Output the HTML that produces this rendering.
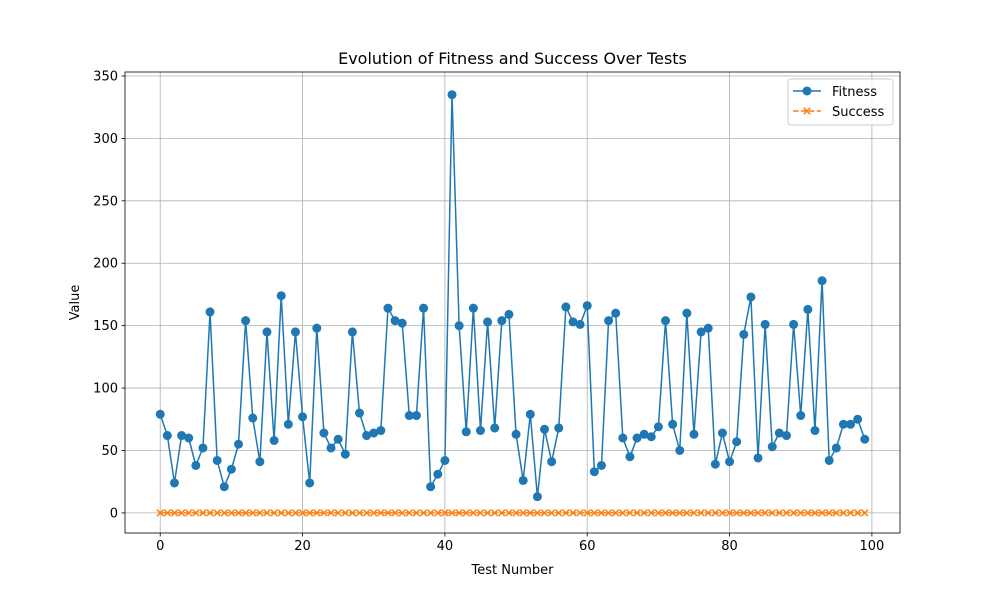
<!DOCTYPE html>
<html><head><meta charset="utf-8"><style>
body{margin:0;background:#fff;font-family:"Liberation Sans","DejaVu Sans",sans-serif}
svg text{font-family:"DejaVu Sans","Liberation Sans",sans-serif}
</style></head><body>
<svg id="chart" width="1000" height="600" xmlns="http://www.w3.org/2000/svg"></svg>
<script>
const testNumbers = Array.from({length:100},(_,i)=>i);
const fitness = [79,62,24,62,60,38,52,161,42,21,35,55,154,76,41,145,58,174,71,145,77,24,148,64,52,59,47,145,80,62,64,66,164,154,152,78,78,164,21,31,42,335,150,65,164,66,153,68,154,159,63,26,79,13,67,41,68,165,153,151,166,33,38,154,160,60,45,60,63,61,69,154,71,50,160,63,145,148,39,64,41,57,143,173,44,151,53,64,62,151,78,163,66,186,42,52,71,71,75,59];
const success = new Array(100).fill(0);
const xTicks = [0,20,40,60,80,100];
const yTicks = [0,50,100,150,200,250,300,350];

const L=125,R=900,T=72,B=533;
const xMin=-4.95,xMax=103.95,yMin=-16.1,yMax=353.2;
const xs=v=>L+(v-xMin)/(xMax-xMin)*(R-L);
const ys=v=>B-(v-yMin)/(yMax-yMin)*(B-T);
const svg=document.getElementById('chart');
const NS='http://www.w3.org/2000/svg';
function mk(tag,attrs,parent){const e=document.createElementNS(NS,tag);for(const k in attrs)e.setAttribute(k,attrs[k]);(parent||svg).appendChild(e);return e;}

const grid=mk('g',{});


xTicks.forEach(t=>{
  const x=xs(t);
  mk('line',{x1:x,x2:x,y1:T,y2:B,stroke:'#b0b0b0','stroke-width':0.8},grid);
  mk('line',{x1:x,x2:x,y1:B,y2:B+3.5,stroke:'#000','stroke-width':0.8});
  const tx=mk('text',{x:x,y:B+17,'font-size':13,'text-anchor':'middle'});
  tx.textContent=t;
  
  
});
yTicks.forEach(t=>{
  const y=ys(t);
  mk('line',{x1:L,x2:R,y1:y,y2:y,stroke:'#b0b0b0','stroke-width':0.8},grid);
  mk('line',{x1:L-3.5,x2:L,y1:y,y2:y,stroke:'#000','stroke-width':0.8});
  const tx=mk('text',{x:L-7,y:y+4.5,'font-size':13,'text-anchor':'end'});
  tx.textContent=t;
  
  
});

// fitness series
const fg=mk('g',{});


mk('polyline',{points:fitness.map((v,i)=>xs(testNumbers[i])+','+ys(v)).join(' '),fill:'none',stroke:'#1f77b4','stroke-width':1.5},fg);
fitness.forEach((v,i)=>{
  const c=mk('circle',{cx:xs(testNumbers[i]),cy:ys(v),r:4.5,fill:'#1f77b4'},fg);
  
  
});
// success series
const sg=mk('g',{});


mk('polyline',{points:success.map((v,i)=>xs(testNumbers[i])+','+ys(v)).join(' '),fill:'none',stroke:'#ff7f0e','stroke-width':1.5,'stroke-dasharray':'5.5,2.4'},sg);
success.forEach((v,i)=>{
  const x=xs(testNumbers[i]),y=ys(v),d=3.2;
  const p=mk('path',{d:`M${x-d},${y-d}L${x+d},${y+d}M${x-d},${y+d}L${x+d},${y-d}`,stroke:'#ff7f0e','stroke-width':1.5},sg);
  
  
});

mk('rect',{x:L,y:T,width:R-L,height:B-T,fill:'none',stroke:'#000','stroke-width':0.8});
const title=mk('text',{x:(L+R)/2,y:64,'font-size':16,'text-anchor':'middle'});title.textContent='Evolution of Fitness and Success Over Tests';

const xl=mk('text',{x:(L+R)/2,y:574,'font-size':13,'text-anchor':'middle'});xl.textContent='Test Number';

const yl=mk('text',{x:0,y:0,'font-size':13,'text-anchor':'middle',transform:`translate(79,${(T+B)/2}) rotate(-90)`});yl.textContent='Value';


// legend
const lg=mk('g',{});


mk('rect',{x:788,y:79,width:105,height:46,rx:3,fill:'#fff','fill-opacity':0.8,stroke:'#ccc'},lg);
mk('line',{x1:793,x2:821,y1:91,y2:91,stroke:'#1f77b4','stroke-width':1.5},lg);
mk('circle',{cx:807,cy:91,r:4.5,fill:'#1f77b4'},lg);
const t1=mk('text',{x:832,y:96,'font-size':13},lg);t1.textContent='Fitness';

mk('line',{x1:793,x2:821,y1:111,y2:111,stroke:'#ff7f0e','stroke-width':1.5,'stroke-dasharray':'5.5,2.4'},lg);
mk('path',{d:'M803.8,107.8L810.2,114.2M803.8,114.2L810.2,107.8',stroke:'#ff7f0e','stroke-width':1.5},lg);
const t2=mk('text',{x:832,y:116,'font-size':13},lg);t2.textContent='Success';

</script>
</body></html>
